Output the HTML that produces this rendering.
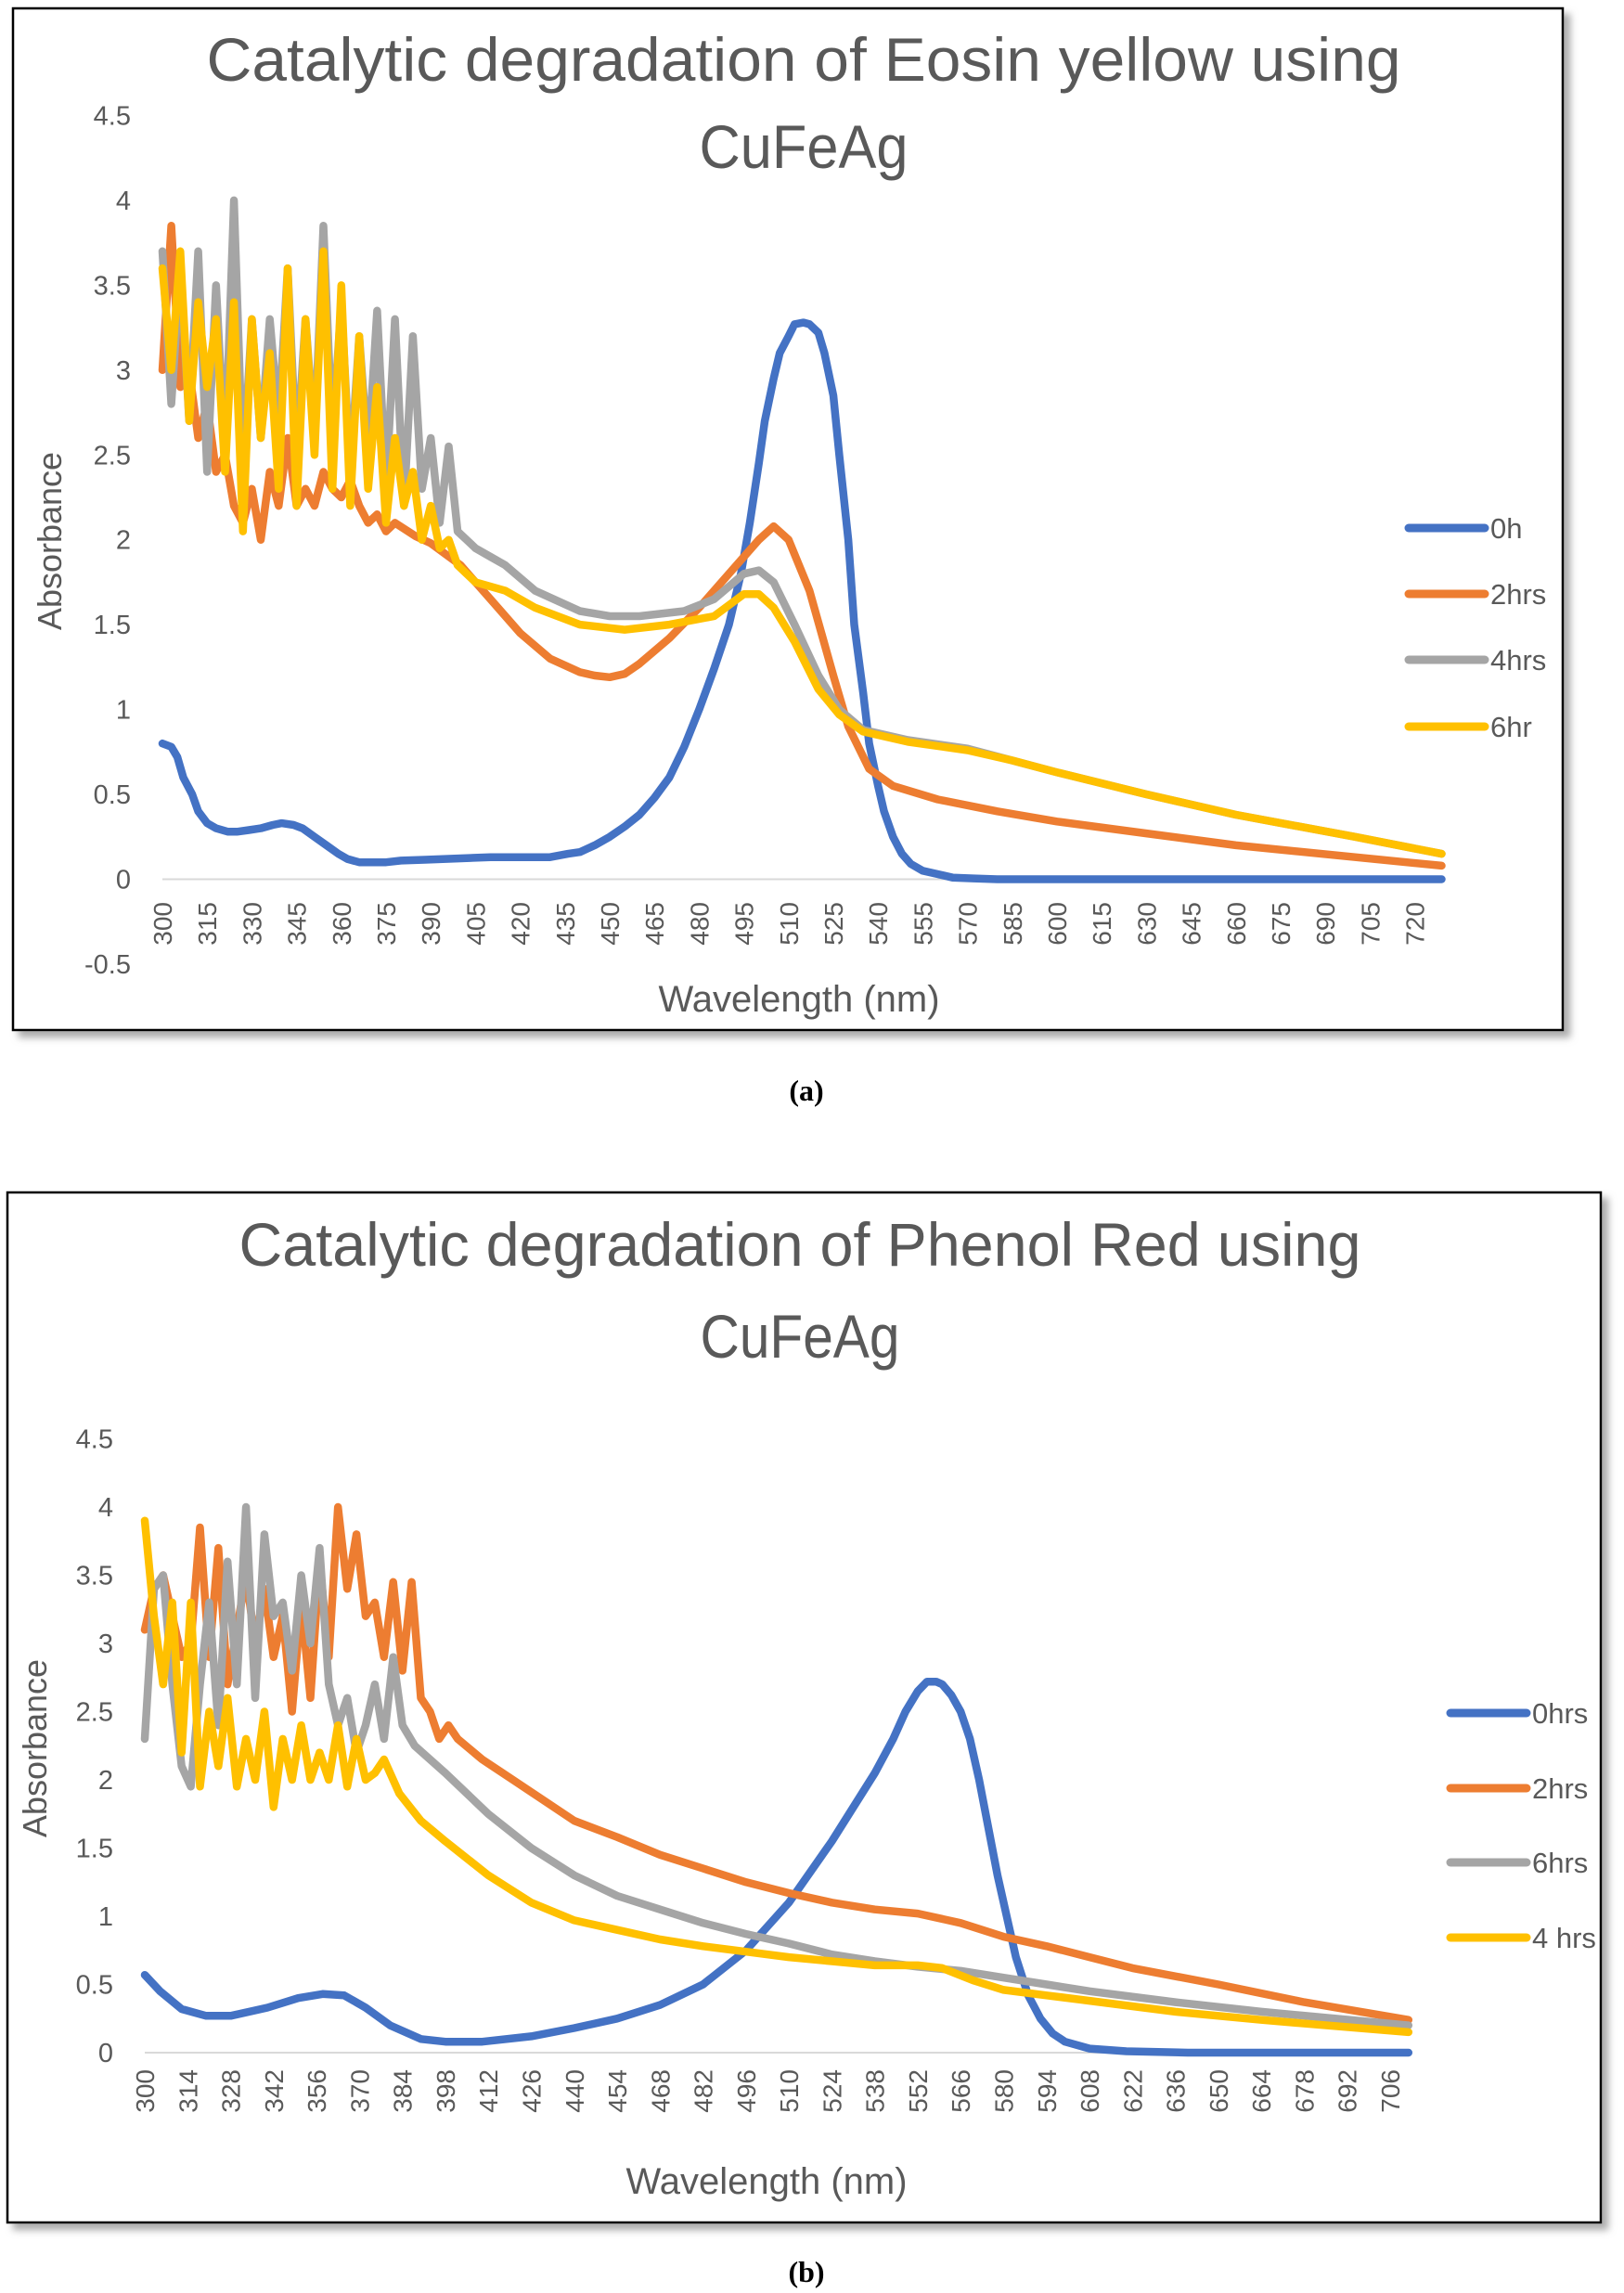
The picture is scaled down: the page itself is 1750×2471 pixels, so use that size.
<!DOCTYPE html>
<html><head><meta charset="utf-8"><style>
html,body{margin:0;padding:0;background:#fff;}
svg{display:block;}
text{font-family:"Liberation Sans",sans-serif;}
</style></head><body>
<svg id="svg" width="1750" height="2471" viewBox="0 0 1750 2471" xmlns="http://www.w3.org/2000/svg">
<defs><filter id="sh" x="-5%" y="-5%" width="110%" height="110%"><feDropShadow dx="7" dy="7" stdDeviation="4" flood-color="#888" flood-opacity="0.7"/></filter></defs>
<rect x="14" y="9" width="1670" height="1101" fill="#fff" stroke="#000" stroke-width="2.5" filter="url(#sh)"/>
<rect x="8" y="1285" width="1717" height="1110" fill="#fff" stroke="#000" stroke-width="2.5" filter="url(#sh)"/>
<text x="866" y="87" font-size="66" fill="#595959" text-anchor="middle" textLength="1287" lengthAdjust="spacingAndGlyphs">Catalytic degradation of Eosin yellow using</text>
<text x="866" y="181" font-size="66" fill="#595959" text-anchor="middle" textLength="225" lengthAdjust="spacingAndGlyphs">CuFeAg</text>
<text x="862" y="1364" font-size="66" fill="#595959" text-anchor="middle" textLength="1209" lengthAdjust="spacingAndGlyphs">Catalytic degradation of Phenol Red using</text>
<text x="862" y="1463" font-size="66" fill="#595959" text-anchor="middle" textLength="215" lengthAdjust="spacingAndGlyphs">CuFeAg</text>
<text x="869" y="1186" font-size="32" font-weight="bold" text-anchor="middle" style="font-family:'Liberation Serif',serif">(a)</text>
<text x="869" y="2459" font-size="32" font-weight="bold" text-anchor="middle" style="font-family:'Liberation Serif',serif">(b)</text>
<g id="ga"></g>
<g id="gb"></g>
</svg>
<script>
// ---- Chart A data ----
const aYTicks = [-0.5,0,0.5,1,1.5,2,2.5,3,3.5,4,4.5];
const aXTicks = [300,315,330,345,360,375,390,405,420,435,450,465,480,495,510,525,540,555,570,585,600,615,630,645,660,675,690,705,720];
const aNames = ["0h","2hrs","4hrs","6hr"];
const aColors = ["#4472C4","#ED7D31","#A5A5A5","#FFC000"];
const a0Wl = [300,303,305,307,310,312,315,318,322,325,329,333,337,340,344,347,351,355,359,362,366,370,375,380,388,395,403,410,420,430,436,440,445,450,455,460,465,470,475,480,485,490,494,497,500,502,505,507,510,512,515,517,520,522,525,527,530,532,535,537,540,542,545,548,551,555,560,565,572,580,729];
const a0Val = [0.8,0.78,0.72,0.6,0.5,0.4,0.33,0.3,0.28,0.28,0.29,0.3,0.32,0.33,0.32,0.3,0.25,0.2,0.15,0.12,0.1,0.1,0.1,0.11,0.115,0.12,0.125,0.13,0.13,0.13,0.15,0.16,0.2,0.25,0.31,0.38,0.48,0.6,0.78,1.0,1.24,1.5,1.8,2.1,2.45,2.7,2.95,3.1,3.2,3.27,3.28,3.27,3.22,3.1,2.85,2.5,2.0,1.5,1.1,0.8,0.55,0.4,0.25,0.15,0.09,0.05,0.03,0.01,0.005,0,0];
const a1Noise = [3.0,3.85,2.9,3.0,2.6,2.8,2.4,2.5,2.2,2.1,2.3,2.0,2.4,2.2,2.6,2.2,2.3,2.2,2.4,2.3,2.25,2.35,2.2,2.1,2.15,2.05,2.1];
const a1Wl = [385,390,400,410,420,430,440,445,450,455,460,470,480,490,500,505,510,517,525,530,537,545,560,580,600,630,660,700,729];
const a1Val = [2.02,1.98,1.85,1.65,1.45,1.3,1.22,1.2,1.19,1.21,1.27,1.42,1.6,1.8,2.0,2.08,2.0,1.7,1.2,0.9,0.65,0.55,0.47,0.4,0.34,0.27,0.2,0.13,0.08];
const a2Noise = [3.7,2.8,3.6,2.7,3.7,2.4,3.5,2.5,4.0,2.4,3.3,2.6,3.3,2.7,3.6,2.5,3.3,2.6,3.85,2.6,3.4,2.4,3.2,2.5,3.35,2.3,3.3,2.2,3.2,2.3,2.6,2.1,2.55,2.05,2.0,1.95];
const a2Wl = [410,415,425,440,450,460,475,485,495,500,505,512,520,527,535,550,570,585,600,630,660,700,729];
const a2Val = [1.9,1.85,1.7,1.58,1.55,1.55,1.58,1.65,1.8,1.82,1.75,1.5,1.2,1.0,0.88,0.82,0.77,0.7,0.63,0.5,0.38,0.25,0.15];
const a3Noise = [3.6,3.0,3.7,2.7,3.4,2.9,3.3,2.4,3.4,2.05,3.3,2.6,3.1,2.3,3.6,2.2,3.3,2.5,3.7,2.3,3.5,2.2,3.2,2.3,2.9,2.1,2.6,2.2,2.4,2.0,2.2,1.95,2.0,1.85,1.8,1.75];
const a3Wl = [415,425,440,455,470,485,495,500,505,512,520,527,535,550,570,585,600,630,660,700,729];
const a3Val = [1.7,1.6,1.5,1.47,1.5,1.55,1.68,1.68,1.6,1.4,1.12,0.97,0.87,0.81,0.76,0.7,0.63,0.5,0.38,0.25,0.15];

// ---- Chart B data ----
const bYTicks = [0,0.5,1,1.5,2,2.5,3,3.5,4,4.5];
const bXTicks = [300,314,328,342,356,370,384,398,412,426,440,454,468,482,496,510,524,538,552,566,580,594,608,622,636,650,664,678,692,706];
const bNames = ["0hrs","2hrs","6hrs","4 hrs"];
const bColors = ["#4472C4","#ED7D31","#A5A5A5","#FFC000"];
const b0Wl = [300,305,312,320,328,340,350,358,365,372,380,390,398,410,426,440,454,468,482,496,510,524,538,544,548,552,555,558,560,563,566,569,572,575,578,581,584,588,592,596,600,608,620,640,712];
const b0Val = [0.57,0.45,0.32,0.27,0.27,0.33,0.4,0.43,0.42,0.33,0.2,0.1,0.08,0.08,0.12,0.18,0.25,0.35,0.5,0.75,1.1,1.55,2.05,2.3,2.5,2.65,2.72,2.72,2.7,2.62,2.5,2.3,2.0,1.65,1.3,1.0,0.7,0.42,0.25,0.14,0.08,0.03,0.01,0,0];
const b1Noise = [3.1,3.4,3.5,3.2,2.9,3.0,3.85,2.9,3.7,2.7,3.1,3.5,3.0,3.4,2.9,3.2,2.5,3.3,2.6,3.6,2.9,4.0,3.4,3.8,3.2,3.3,2.9,3.45,2.8,3.45,2.6,2.5,2.3,2.4];
const b1Wl = [402,410,420,430,440,454,468,482,496,510,524,538,552,566,580,594,608,622,650,678,712];
const b1Val = [2.3,2.15,2.0,1.85,1.7,1.58,1.45,1.35,1.25,1.17,1.1,1.05,1.02,0.95,0.85,0.78,0.7,0.62,0.5,0.37,0.24];
const b2Noise = [2.3,3.4,3.5,2.7,2.1,1.95,2.7,3.3,2.4,3.6,2.7,4.0,2.6,3.8,3.2,3.3,2.8,3.5,3.0,3.7,2.7,2.4,2.6,2.2,2.4,2.7,2.3,2.9,2.4];
const b2Wl = [388,398,412,426,440,454,468,482,496,510,524,538,552,566,580,594,608,636,664,712];
const b2Val = [2.25,2.05,1.75,1.5,1.3,1.15,1.05,0.95,0.87,0.8,0.72,0.67,0.63,0.6,0.55,0.5,0.45,0.37,0.3,0.2];
const b3Noise = [3.9,3.2,2.7,3.3,2.2,3.3,1.95,2.5,2.1,2.6,1.95,2.3,2.0,2.5,1.8,2.3,2.0,2.4,2.0,2.2,2.0,2.4,1.95,2.3,2.0,2.05,2.15];
const b3Wl = [383,390,398,412,426,440,454,468,482,496,510,524,538,552,560,570,580,594,608,636,664,712];
const b3Val = [1.9,1.7,1.55,1.3,1.1,0.97,0.9,0.83,0.78,0.74,0.7,0.67,0.64,0.64,0.62,0.53,0.46,0.42,0.38,0.3,0.24,0.15];

const NS="http://www.w3.org/2000/svg";
function mk(parent, tag, attrs, txt){const e=document.createElementNS(NS,tag);for(const k in attrs)e.setAttribute(k,attrs[k]);if(txt!==undefined)e.textContent=txt;parent.appendChild(e);return e;}
function merge(noise, wl, val){const pts=[];noise.forEach((v,i)=>pts.push([300+3*i,v]));wl.forEach((w,i)=>pts.push([w,val[i]]));return pts;}

function chart(g, cfg){
  const X = w => cfg.x0 + (w-300)*cfg.xs;
  const Y = v => cfg.y0 - v*cfg.ys;
  cfg.yTicks.forEach(t=>{
    const e=mk(g,'text',{x:cfg.ylx,y:Y(t)+10,'font-size':29,fill:'#595959','text-anchor':'end'},String(t));
    
    
  });
  const zl=mk(g,'line',{x1:X(300),x2:X(cfg.xEnd),y1:Y(0),y2:Y(0),stroke:'#D9D9D9','stroke-width':2});
  
  
  cfg.xTicks.forEach(t=>{
    const x=X(t)+10, y=cfg.xly;
    const e=mk(g,'text',{x:x,y:y,'font-size':28,fill:'#595959','text-anchor':'end',transform:`rotate(-90 ${x} ${y})`},String(t));
    
    
  });
  cfg.series.forEach((pts,i)=>{
    const d=pts.map((p,j)=>(j?'L':'M')+X(p[0]).toFixed(1)+','+Y(p[1]).toFixed(1)).join(' ');
    const p=mk(g,'path',{d:d,fill:'none',stroke:cfg.colors[i],'stroke-width':8.5,'stroke-linejoin':'round','stroke-linecap':'round'});
    
    
  });
  cfg.names.forEach((n,i)=>{
    const y=cfg.legY[i];
    const l=mk(g,'line',{x1:cfg.legX,x2:cfg.legX+82,y1:y,y2:y,stroke:cfg.colors[i],'stroke-width':9,'stroke-linecap':'round'});
    
    
    const t=mk(g,'text',{x:cfg.legX+88,y:y+11,'font-size':31,fill:'#595959'},n);
    
    
  });
  const xt=mk(g,'text',{x:cfg.xtx,y:cfg.xty,'font-size':40,fill:'#595959','text-anchor':'middle'},'Wavelength (nm)');
  
  
  const yt=mk(g,'text',{x:cfg.ytx,y:cfg.yty,'font-size':36,fill:'#595959','text-anchor':'middle',transform:`rotate(-90 ${cfg.ytx} ${cfg.yty})`},'Absorbance');
  
  
}

chart(document.getElementById('ga'),{
  x0:175, xs:(1524.6-175)/420, y0:947.5, ys:182.9, xEnd:729,
  yTicks:aYTicks, xTicks:aXTicks, ylx:141, xly:972,
  names:aNames, colors:aColors,
  series:[a0Wl.map((w,i)=>[w,a0Val[i]]), merge(a1Noise,a1Wl,a1Val), merge(a2Noise,a2Wl,a2Val), merge(a3Noise,a3Wl,a3Val)],
  legX:1518, legY:[569,640,711,783],
  xtx:861, xty:1090, ytx:66, yty:583
});
chart(document.getElementById('gb'),{
  x0:156, xs:(1498-156)/406, y0:2212, ys:147, xEnd:712,
  yTicks:bYTicks, xTicks:bXTicks, ylx:122, xly:2230,
  names:bNames, colors:bColors,
  series:[b0Wl.map((w,i)=>[w,b0Val[i]]), merge(b1Noise,b1Wl,b1Val), merge(b2Noise,b2Wl,b2Val), merge(b3Noise,b3Wl,b3Val)],
  legX:1563, legY:[1846,1927,2007,2088],
  xtx:826, xty:2364, ytx:50, yty:1884
});
</script>
</body></html>
